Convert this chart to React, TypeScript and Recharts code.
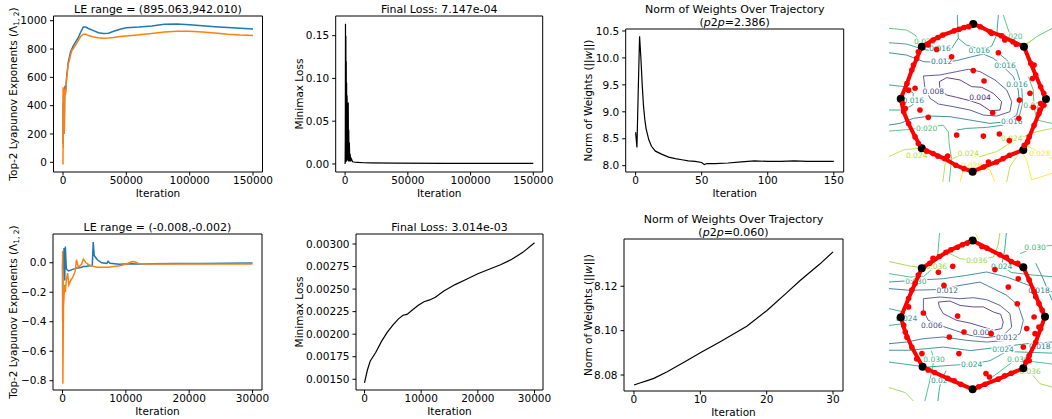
import React from 'react';
import { LineChart, Line, XAxis, YAxis, ReferenceArea, ScatterChart, Scatter } from 'recharts';

const FONT = '"DejaVu Sans", sans-serif';
const W = 1052;
const H = 419;

// ---- top row, Lyapunov exponents (long run) ----
const leTopIter = [0, 100, 200, 400, 600, 800, 1000, 1300, 1600, 2000, 2500, 3000, 3500, 4000, 5000, 6000, 7000, 8000, 10000, 12000, 14000, 16000, 18000, 20000, 24000, 28000, 32000, 36000, 40000, 45000, 50000, 60000, 70000, 80000, 90000, 100000, 110000, 120000, 130000, 140000, 150000];
const leTopBlue = [130, 420, 250, 480, 300, 520, 220, 480, 540, 500, 560, 620, 650, 700, 740, 780, 800, 820, 850, 880, 920, 955, 955, 945, 930, 915, 910, 912, 925, 940, 950, 955, 962, 975, 977, 972, 965, 958, 952, 947, 942];
const leTopOrange = [-15, 530, 100, 520, 300, 500, 200, 430, 520, 480, 540, 600, 640, 690, 720, 760, 790, 800, 830, 860, 890, 905, 905, 895, 885, 880, 876, 878, 882, 888, 892, 900, 910, 920, 926, 926, 920, 913, 905, 899, 895];

// ---- top row, minimax loss ----
const lossTopIter = [0, 150, 300, 450, 600, 750, 900, 1050, 1200, 1400, 1600, 1800, 2000, 2200, 2500, 2700, 2900, 3100, 3400, 3700, 4000, 4500, 5000, 6000, 8000, 10000, 15000, 20000, 40000, 80000, 150000];
const lossTopVal = [0.0, 0.03, 0.164, 0.002, 0.15, 0.005, 0.12, 0.003, 0.095, 0.004, 0.08, 0.006, 0.06, 0.004, 0.072, 0.003, 0.04, 0.004, 0.025, 0.003, 0.012, 0.003, 0.006, 0.0025, 0.002, 0.0018, 0.0014, 0.0012, 0.001, 0.0008, 0.000715];

// ---- top row, weight norm ----
const normTopIter = [0, 1, 2, 3, 4, 5, 6, 7, 8, 10, 12, 15, 20, 25, 30, 35, 40, 45, 50, 52, 54, 60, 70, 80, 90, 100, 110, 120, 130, 140, 150];
const normTopVal = [8.62, 8.34, 9.4, 10.4, 10.0, 9.5, 9.1, 8.85, 8.68, 8.48, 8.36, 8.27, 8.21, 8.16, 8.13, 8.11, 8.09, 8.08, 8.06, 8.02, 8.04, 8.04, 8.05, 8.07, 8.09, 8.08, 8.08, 8.09, 8.08, 8.08, 8.08];

// ---- bottom row, Lyapunov exponents ----
const leBotIter = [0, 30, 60, 150, 250, 350, 450, 600, 800, 1000, 1300, 1600, 2000, 2200, 2500, 3000, 3300, 3700, 4200, 4700, 4850, 5000, 5500, 6200, 7000, 7200, 7500, 9000, 10000, 11000, 11500, 12000, 14000, 18000, 22000, 26000, 30000];
const leBotBlue = [0.0, -0.4, -0.05, 0.03, 0.1, -0.12, 0.11, -0.04, -0.05, -0.055, -0.05, -0.045, -0.04, -0.035, -0.035, -0.03, -0.025, -0.025, -0.02, -0.02, 0.14, 0.05, 0.02, 0.0, -0.005, 0.01, -0.003, -0.01, -0.008, -0.007, -0.008, -0.008, -0.006, -0.005, -0.005, -0.004, -0.002];
const leBotOrange = [0.0, 0.08, -0.82, -0.3, -0.22, -0.15, -0.2, -0.12, -0.07, -0.15, -0.12, -0.1, -0.06, 0.02, -0.03, -0.01, 0.025, 0.0, -0.015, -0.02, -0.025, -0.025, -0.03, -0.03, -0.03, -0.03, -0.028, -0.02, -0.01, 0.008, 0.005, -0.005, -0.008, -0.008, -0.008, -0.008, -0.008];

// ---- bottom row, minimax loss ----
const lossBotIter = [0, 500, 1000, 2000, 3000, 4000, 5000, 6000, 6800, 7500, 8500, 9500, 10500, 11500, 12500, 14000, 16000, 18000, 20000, 22000, 24000, 26000, 28000, 30000];
const lossBotVal = [0.00146, 0.0016, 0.0017, 0.0018, 0.00192, 0.00202, 0.0021, 0.00217, 0.00221, 0.00222, 0.00227, 0.00232, 0.00236, 0.00238, 0.00241, 0.00248, 0.00255, 0.00261, 0.00267, 0.00272, 0.00277, 0.00283, 0.00291, 0.003014];

// ---- bottom row, weight norm ----
const normBotIter = [0, 1, 2, 3, 5, 8, 10, 13, 15, 17, 20, 23, 25, 28, 30];
const normBotVal = [8.0755, 8.0765, 8.0775, 8.0785, 8.0815, 8.0865, 8.09, 8.095, 8.0985, 8.102, 8.109, 8.117, 8.1225, 8.13, 8.1355];

// ---- contour panels (projected weight plane, 0..100 both ways) ----
type Pt = [number, number];
const topContours: { level: string; pts: Pt[] }[] = [
  { level: '0.004', pts: [[30.9, 60.1], [35.4, 62.5], [43.6, 61.1], [50.7, 57.1], [56.9, 56.7], [64, 53.1], [69.1, 48.1], [68.1, 43.1], [62, 42.7], [55.8, 46.7], [49.7, 48.7], [41.5, 50.7], [35.4, 52.1], [31.3, 55.1], [30.9, 60.1]] },
  { level: '0.008', pts: [[21.1, 63.5], [31.3, 64.1], [41.5, 66.1], [48.7, 67.5], [55.8, 66.1], [65, 61.1], [72.2, 55.1], [75.3, 48.1], [74.2, 42.1], [66.1, 39.5], [57.9, 40.1], [49.7, 43.1], [39.5, 45.1], [30.3, 46.7], [25.2, 50.1], [22.1, 56.1], [21.1, 63.5]] },
  { level: '0.012', pts: [[0, 77.4], [10.8, 76], [21.1, 72.1], [31.3, 71.5], [41.5, 72.7], [50.7, 75], [57.9, 76.6], [64, 74.1], [70.1, 69.1], [76.3, 63.1], [79.3, 55.1], [80, 47.1], [78.3, 40.1], [72.2, 36.1], [62, 35.1], [49.7, 37.1], [37.4, 39.1], [25.2, 39.5], [14.9, 38.1], [6.7, 35.1], [0, 34.1]] },
  { level: '0.016', pts: [[41.9, 100], [42.5, 86], [47.6, 82], [55.8, 79.4], [63, 81.4], [66.1, 88], [67.1, 100]] },
  { level: '0.016', pts: [[0, 83.4], [10.8, 82.6], [21.1, 79.4], [30.3, 78], [38.4, 80], [42.5, 86]] },
  { level: '0.016', pts: [[66.1, 78], [72.2, 73.1], [78.3, 67.1], [81.4, 57.1], [82, 47.1], [79.3, 37.1], [70.1, 34.1], [59.9, 32.7], [47.6, 32.1], [41.5, 31.1]] },
  { level: '0.016', pts: [[0, 58.1], [9.8, 57.1], [14.9, 53.1], [14.5, 46.1], [8.8, 43.1], [0, 43.1]] },
  { level: '0.020', pts: [[0, 92], [10.8, 91], [16, 88], [19, 84]] },
  { level: '0.020', pts: [[0, 30.5], [12.9, 31.5], [25.2, 33], [33.3, 34], [36.4, 30], [37, 22], [38.4, 14], [37, 0]] },
  { level: '0.020', pts: [[70.1, 100], [73.2, 91], [76.3, 84]] },
  { level: '0.020', pts: [[85.5, 63.1], [88.5, 55.1], [89, 45.1], [90.6, 37.1], [100, 35.1]] },
  { level: '0.020', pts: [[82.4, 81], [90.6, 87], [100, 92]] },
  { level: '0.024', pts: [[33, 0], [34.5, 11.2], [41.5, 15.2], [55.8, 15.2], [66.1, 18.2], [74.2, 23.2], [82.4, 27.1], [90.6, 30.1], [100, 32.1]] },
  { level: '0.024', pts: [[0, 15.2], [8.8, 19.2], [18, 20.2]] },
  { level: '0.024', pts: [[72.2, 0], [74.2, 9.2], [78.3, 15.2]] },
  { level: '0.028', pts: [[80.4, 19.2], [84.5, 13.2], [87.5, 1.2], [100, 5.2]] },
  { level: '0.028', pts: [[84, 22], [92, 18], [100, 14]] },
  { level: '0.028', pts: [[43.6, 0], [45.6, 7.2], [52, 9], [58, 8.5], [62, 7.2], [65, 0]] },
  { level: '0.028', pts: [[84.5, 83], [87.5, 85]] },
];
const topLabels: { t: string; x: number; y: number }[] = [
  { t: '0.004', x: 55.8, y: 50.7 }, { t: '0.008', x: 27.2, y: 54.1 }, { t: '0.012', x: 32.3, y: 72.1 },
  { t: '0.016', x: 55.4, y: 78.6 }, { t: '0.016', x: 31.3, y: 80 }, { t: '0.016', x: 71.2, y: 70.1 },
  { t: '0.016', x: 78.5, y: 58.5 }, { t: '0.016', x: 75.3, y: 36.1 }, { t: '0.016', x: 14.9, y: 49.1 },
  { t: '0.020', x: 23.1, y: 32.1 }, { t: '0.020', x: 89, y: 46 }, { t: '0.020', x: 75.3, y: 87 },
  { t: '0.020', x: 22, y: 84 }, { t: '0.024', x: 48.7, y: 17.2 }, { t: '0.024', x: 75.3, y: 26.1 },
  { t: '0.024', x: 17, y: 16.2 }, { t: '0.028', x: 50.7, y: 10.2 }, { t: '0.028', x: 92.6, y: 17.2 },
];
const topPath: Pt[] = [[51.7, 94.6], [46, 92.5], [40, 90.5], [33, 88], [27, 85], [20.1, 81], [17, 74], [14, 67], [11, 59], [7.2, 49.9], [9, 42], [12, 35], [16, 27], [20.1, 20.2], [27, 17], [34, 14], [41, 10], [46, 8], [51.3, 6.2], [58, 9], [66, 12], [74, 16], [82.4, 19.2], [86, 27], [89, 34], [92, 41], [96.3, 49.7], [93, 57], [90, 64], [87, 71], [82.8, 81], [76, 84], [69, 87.5], [62, 90], [56, 93], [51.7, 94.6]];
const topVertices: Pt[] = [[51.7, 94.6], [82.8, 81], [96.3, 49.7], [82.4, 19.2], [51.3, 6.2], [20.1, 20.2], [7.2, 49.9], [20.1, 81]];
const topInner: Pt[] = [[29.2, 79.4], [38.4, 75], [67.1, 77.4], [51.7, 66.7], [58.3, 60.5], [16, 56.1], [19, 43.1], [24.1, 38.7], [41.5, 28.1], [57.9, 27.5], [67.7, 28.7], [73.8, 24.8], [63.6, 41.5], [80, 49.1], [86.5, 53.1], [88.5, 44.7], [92.6, 43.1], [79.6, 38.1], [24, 82], [30, 86.5], [63, 89], [71, 85], [88, 62], [93, 47], [85, 24], [61, 12], [36, 15.5], [12, 55], [10, 44], [89, 70], [43, 91.5], [49, 93], [78, 82.5], [95, 53], [95, 46], [83, 22], [70, 14], [30, 15.5], [23, 18.5], [18, 23], [8.5, 47], [15, 70], [18, 78]];

const botContours: { level: string; pts: Pt[] }[] = [
  { level: '0.000', pts: [[30.3, 58.9], [37.4, 59.5], [43.6, 56.9], [51.7, 56], [57.9, 56], [64, 53], [68.5, 51.6], [70.1, 47], [69.1, 43.1], [64, 42.1], [57.9, 44], [49.7, 46.4], [41.5, 48], [33.3, 52], [30.9, 56], [30.3, 58.9]] },
  { level: '0.006', pts: [[21.1, 60.9], [31.3, 61.9], [43.6, 60.9], [51.7, 61.5], [59.9, 60.3], [68.1, 56.9], [74.2, 52], [75.3, 44], [70.1, 39.1], [59.9, 37.7], [49.7, 39.1], [41.5, 41.7], [31.3, 45], [24.1, 48], [21.1, 54], [21.1, 60.9]] },
  { level: '0.012', pts: [[0, 66.9], [12.9, 65.9], [29.2, 66.3], [43.6, 68.8], [55.8, 70.8], [64, 66.9], [72.2, 62.9], [79.3, 56.9], [82.4, 48], [80.4, 40.1], [72.2, 36.1], [59.9, 35.1], [47.6, 36.1], [33.3, 38.1], [21.1, 37.1], [10.8, 35.1], [0, 34.1]] },
  { level: '0.018', pts: [[0, 70.8], [14.9, 71.8], [33.3, 72.8], [47.6, 74.8], [59.9, 76.8], [72.2, 73.8], [88.5, 67.9], [100, 64.9]] },
  { level: '0.018', pts: [[0, 30.2], [12.9, 30.2], [33.3, 32.1], [50, 30], [68.1, 32.1], [84.5, 34.1], [100, 35.1]] },
  { level: '0.018', pts: [[90, 82], [94, 74], [96.7, 67.7], [100, 60]] },
  { level: '0.024', pts: [[72, 100], [71, 90], [69.1, 80.4], [75, 76.5], [88, 75], [100, 74]] },
  { level: '0.024', pts: [[0, 23.2], [23.1, 20.2], [37.4, 21.2], [50.7, 22], [62, 24], [72.2, 29.5], [84.5, 29], [100, 28.5]] },
  { level: '0.024', pts: [[0, 45], [9, 46], [10.8, 49.2], [9, 53], [0, 55]] },
  { level: '0.024', pts: [[30, 0], [31, 8], [32.3, 12.5], [35, 18]] },
  { level: '0.030', pts: [[0, 75.8], [12.9, 73.8], [21.1, 74], [27, 79], [30, 88], [31, 100]] },
  { level: '0.030', pts: [[80.4, 87.7], [89.6, 91.5], [100, 92.7]] },
  { level: '0.030', pts: [[22, 0], [25, 12], [27.6, 24.8], [26, 30]] },
  { level: '0.030', pts: [[63, 14], [70, 19], [76.7, 24], [88, 23.5], [100, 22]] },
  { level: '0.036', pts: [[33.3, 89.7], [43.6, 84.7], [53.8, 83.7], [64, 85.7], [67, 93], [68, 100]] },
  { level: '0.036', pts: [[0, 83], [12, 80.5], [19, 79.5]] },
  { level: '0.036', pts: [[78.3, 18.3], [86.5, 17.3], [92.6, 10.3], [100, 8.3]] },
  { level: '0.036', pts: [[0, 8], [10, 5], [15, 0]] },
  { level: '0.042', pts: [[53, 100], [55, 96]] },
];
const botLabels: { t: string; x: number; y: number }[] = [
  { t: '0.012', x: 35.8, y: 66.1 }, { t: '0.006', x: 26.2, y: 45.2 }, { t: '0.006', x: 57.9, y: 40.7 },
  { t: '0.012', x: 72.2, y: 37.9 }, { t: '0.018', x: 92.5, y: 32.3 }, { t: '0.018', x: 92, y: 66 },
  { t: '0.024', x: 69.1, y: 80.4 }, { t: '0.024', x: 50.7, y: 22 }, { t: '0.024', x: 70, y: 31 },
  { t: '0.030', x: 79, y: 24.5 }, { t: '0.030', x: 16.5, y: 71 }, { t: '0.030', x: 27.6, y: 24.8 },
  { t: '0.024', x: 32.3, y: 12.5 }, { t: '0.036', x: 53.8, y: 83.9 }, { t: '0.036', x: 29, y: 80 },
  { t: '0.030', x: 89.6, y: 91.5 }, { t: '0.036', x: 86.5, y: 17.5 }, { t: '0.024', x: 10.8, y: 49.2 },
];
const botPath: Pt[] = [[51.3, 95.6], [45, 93], [38, 90], [31, 86], [25, 82], [20.1, 79], [16, 70], [12, 61], [7.2, 49.8], [10, 41], [14, 32], [20.6, 20.4], [28, 17], [36, 13.5], [44, 10], [51.3, 7], [59, 10], [67, 13], [75, 16.5], [82.4, 19.5], [86, 27], [90, 35], [93, 43], [95.7, 50.2], [92, 58], [89, 65], [86, 72], [82.4, 79.6], [75, 83], [68, 87], [60, 91], [51.3, 95.6]];
const botVertices: Pt[] = [[51.3, 95.6], [82.4, 79.6], [95.7, 50.2], [82.4, 19.5], [51.3, 7], [20.6, 20.4], [7.2, 49.8], [20.1, 79]];
const botInner: Pt[] = [[30.3, 76.6], [39.1, 80.2], [65, 78.2], [79.3, 72.8], [73.2, 67.9], [33.7, 68.8], [21.1, 52.4], [42.1, 50.6], [46, 41.1], [37, 38.1], [42.9, 28.2], [62.6, 40.1], [59.5, 16.3], [61.6, 14.3], [78.7, 57.9], [89, 50], [84.5, 43.1], [89.6, 40.1], [82.4, 32.1], [20.2, 28.2], [27, 85], [35, 88.5], [57, 92], [72, 85.5], [90, 62], [92, 44], [86, 24], [40, 12], [12, 56], [11, 38], [48, 94], [42, 91.5], [79, 82], [94, 54], [84, 23], [71, 15], [55, 8.5], [24, 18.5], [17, 25], [9, 45], [14, 66], [18, 75]];

const TOP_COLORS: Record<string, string> = {
  '0.004': '#482475', '0.008': '#414487', '0.012': '#2a788e', '0.016': '#25958a',
  '0.020': '#47bd6e', '0.024': '#b5de2b', '0.028': '#fde725',
};
const BOT_COLORS: Record<string, string> = {
  '0.000': '#46317e', '0.006': '#3e4a89', '0.012': '#31688e', '0.018': '#26828e',
  '0.024': '#1f9e89', '0.030': '#35b779', '0.036': '#90d743', '0.042': '#fde725',
};

const zip2 = (xs: number[], a: number[], b?: number[]) =>
  xs.map((x, i) => (b ? { x, a: a[i], b: b[i] } : { x, a: a[i] }));
const toXY = (pts: Pt[]) => pts.map(([x, y]) => ({ x, y }));

const txt = { fontFamily: FONT, fontSize: 10.5, fill: '#000' };
const minus = (s: string) => s.replace('-', '\u2212');

type Box = { x: number; y: number; w: number; h: number };

function Panel(props: {
  box: Box; data: any[]; keys: { k: string; c: string; w: number }[];
  xDomain: number[]; yDomain: number[]; xTicks: number[]; yTicks: number[];
  fmtY: (v: number) => string; title: React.ReactNode[]; ylabel: React.ReactNode; yGap: number;
}) {
  const { box, data, keys, xDomain, yDomain, xTicks, yTicks, fmtY, title, ylabel, yGap } = props;
  const YW = 50;
  const XH = 30;
  const decor = (lp: any) => {
    const { x, y, width, height } = lp.viewBox;
    const cx = x + width / 2;
    const n = title.length;
    return (
      <g>
        {title.map((t, i) => (
          <text key={i} x={cx} y={y - 3.5 - (n - 1 - i) * 12.3} textAnchor="middle" {...txt} fontSize={11}>{t}</text>
        ))}
        <text x={cx} y={y + height + 25} textAnchor="middle" {...txt}>Iteration</text>
        <text transform={`translate(${x - yGap},${y + height / 2}) rotate(-90)`} textAnchor="middle" dominantBaseline="central" {...txt}>{ylabel}</text>
      </g>
    );
  };
  return (
    <div style={{ position: 'absolute', left: 0, top: 0 }}>
      <LineChart width={W} height={H} data={data}
        margin={{ top: box.y, left: box.x - YW, right: W - box.x - box.w, bottom: H - box.y - box.h - XH }}>
        <XAxis dataKey="x" type="number" domain={xDomain} ticks={xTicks} allowDataOverflow interval={0}
          height={XH} axisLine={false} tickSize={3.5} tickMargin={1.5} tickLine={{ stroke: '#000' }}
          tick={{ ...txt }} tickFormatter={(v: number) => String(v)} />
        <YAxis type="number" domain={yDomain} ticks={yTicks} allowDataOverflow interval={0}
          width={YW} axisLine={false} tickSize={3.5} tickMargin={3} tickLine={{ stroke: '#000' }}
          tick={{ ...txt }} tickFormatter={fmtY} />
        {keys.map((s) => (
          <Line key={s.k} dataKey={s.k} type="linear" stroke={s.c} strokeWidth={s.w} dot={false} isAnimationActive={false} />
        ))}
        <ReferenceArea x1={xDomain[0]} x2={xDomain[1]} y1={yDomain[0]} y2={yDomain[1]} fill="none" fillOpacity={0}
          stroke="#000" strokeWidth={1} ifOverflow="visible" label={decor} />
      </LineChart>
    </div>
  );
}

const RedDot = (p: any) => <circle cx={p.cx} cy={p.cy} r={2.8} fill="#ff0000" />;
const BlackDot = (p: any) => <circle cx={p.cx} cy={p.cy} r={4} fill="#000" />;
const NoDot = () => <g />;

function ContourPanel(props: {
  top: number; height: number; contours: { level: string; pts: Pt[] }[]; colors: Record<string, string>;
  labels: { t: string; x: number; y: number }[]; path: Pt[]; vertices: Pt[]; inner: Pt[];
}) {
  const { top, height, contours, colors, labels, path, vertices, inner } = props;
  const LabelShape = (p: any) => (
    <text x={p.cx} y={p.cy} dy="0.35em" textAnchor="middle" fontFamily={FONT} fontSize={7.5}
      fill={colors[p.payload.t]} stroke="#fff" strokeWidth={2.5} paintOrder="stroke">{p.payload.t}</text>
  );
  return (
    <div style={{ position: 'absolute', left: 0, top: 0 }}>
      <ScatterChart width={W} height={H} margin={{ top, left: 889, right: 0, bottom: H - top - height }}>
        <XAxis type="number" dataKey="x" domain={[0, 100]} allowDataOverflow hide />
        <YAxis type="number" dataKey="y" domain={[0, 100]} allowDataOverflow hide />
        {contours.map((c, i) => (
          <Scatter key={'c' + i} data={toXY(c.pts)} line={{ stroke: colors[c.level], strokeWidth: 1, strokeOpacity: 0.85 }}
            shape={NoDot} isAnimationActive={false} />
        ))}
        <Scatter data={labels} shape={LabelShape} isAnimationActive={false} />
        <Scatter data={toXY(path)} line={{ stroke: '#ff0000', strokeWidth: 4 }} shape={RedDot} isAnimationActive={false} />
        <Scatter data={toXY(vertices)} shape={BlackDot} isAnimationActive={false} />
        <Scatter data={toXY(inner)} shape={RedDot} isAnimationActive={false} />
      </ScatterChart>
    </div>
  );
}

const leLabel = (
  <>
    <tspan>Top-2 Lyapunov Exponents (Λ</tspan>
    <tspan fontSize={7.5} dy={2.5}>1, 2</tspan>
    <tspan dy={-2.5}>)</tspan>
  </>
);
const normLabel = (
  <>
    <tspan>Norm of Weights (||</tspan>
    <tspan fontStyle="italic">w</tspan>
    <tspan>||)</tspan>
  </>
);
const p2p = (v: string) => (
  <>
    (<tspan fontStyle="italic">p</tspan>2<tspan fontStyle="italic">p</tspan>={v})
  </>
);

export default function App() {
  return (
    <div style={{ position: 'absolute', left: 0, top: 0, width: W, height: H, background: '#fff', overflow: 'hidden' }}>
      <Panel box={{ x: 53.5, y: 16, w: 209, h: 156 }} data={zip2(leTopIter, leTopBlue, leTopOrange)}
        keys={[{ k: 'a', c: '#1f77b4', w: 1.5 }, { k: 'b', c: '#ff7f0e', w: 1.5 }]}
        xDomain={[-7500, 157500]} yDomain={[-68.5, 1033.2]} xTicks={[0, 50000, 100000, 150000]}
        yTicks={[0, 200, 400, 600, 800, 1000]} fmtY={(v) => String(v)}
        title={['LE range = (895.063,942.010)']} ylabel={leLabel} yGap={40.5} />
      <Panel box={{ x: 335.7, y: 16, w: 207, h: 156 }} data={zip2(lossTopIter, lossTopVal)}
        keys={[{ k: 'a', c: '#000', w: 1.2 }]}
        xDomain={[-7500, 157500]} yDomain={[-0.0094, 0.173]} xTicks={[0, 50000, 100000, 150000]}
        yTicks={[0, 0.05, 0.1, 0.15]} fmtY={(v) => v.toFixed(2)}
        title={['Final Loss: 7.147e-04']} ylabel="Minimax Loss" yGap={36.7} />
      <Panel box={{ x: 625.7, y: 29, w: 218, h: 143 }} data={zip2(normTopIter, normTopVal)}
        keys={[{ k: 'a', c: '#000', w: 1.2 }]}
        xDomain={[-7.5, 157.5]} yDomain={[7.883, 10.537]} xTicks={[0, 50, 100, 150]}
        yTicks={[8, 8.5, 9, 9.5, 10, 10.5]} fmtY={(v) => v.toFixed(1)}
        title={['Norm of Weights Over Trajectory', p2p('2.386')]} ylabel={normLabel} yGap={37.7} />
      <ContourPanel top={15} height={167} contours={topContours} colors={TOP_COLORS} labels={topLabels}
        path={topPath} vertices={topVertices} inner={topInner} />

      <Panel box={{ x: 53, y: 234, w: 209, h: 156 }} data={zip2(leBotIter, leBotBlue, leBotOrange)}
        keys={[{ k: 'a', c: '#1f77b4', w: 1.5 }, { k: 'b', c: '#ff7f0e', w: 1.5 }]}
        xDomain={[-1500, 31500]} yDomain={[-0.863, 0.195]} xTicks={[0, 10000, 20000, 30000]}
        yTicks={[-0.8, -0.6, -0.4, -0.2, 0]} fmtY={(v) => minus(Math.abs(v) < 1e-9 ? '0.0' : v.toFixed(1))}
        title={['LE range = (-0.008,-0.002)']} ylabel={leLabel} yGap={39.7} />
      <Panel box={{ x: 356, y: 234, w: 187, h: 156 }} data={zip2(lossBotIter, lossBotVal)}
        keys={[{ k: 'a', c: '#000', w: 1.2 }]}
        xDomain={[-1500, 31500]} yDomain={[0.001381, 0.003111]} xTicks={[0, 10000, 20000, 30000]}
        yTicks={[0.0015, 0.00175, 0.002, 0.00225, 0.0025, 0.00275, 0.003]} fmtY={(v) => v.toFixed(5)}
        title={['Final Loss: 3.014e-03']} ylabel="Minimax Loss" yGap={56.7} />
      <Panel box={{ x: 624, y: 239, w: 219, h: 152 }} data={zip2(normBotIter, normBotVal)}
        keys={[{ k: 'a', c: '#000', w: 1.2 }]}
        xDomain={[-1.5, 31.5]} yDomain={[8.0728, 8.1413]} xTicks={[0, 10, 20, 30]}
        yTicks={[8.08, 8.1, 8.12]} fmtY={(v) => v.toFixed(2)}
        title={['Norm of Weights Over Trajectory', p2p('0.060')]} ylabel={normLabel} yGap={36} />
      <ContourPanel top={233} height={168} contours={botContours} colors={BOT_COLORS} labels={botLabels}
        path={botPath} vertices={botVertices} inner={botInner} />
    </div>
  );
}
